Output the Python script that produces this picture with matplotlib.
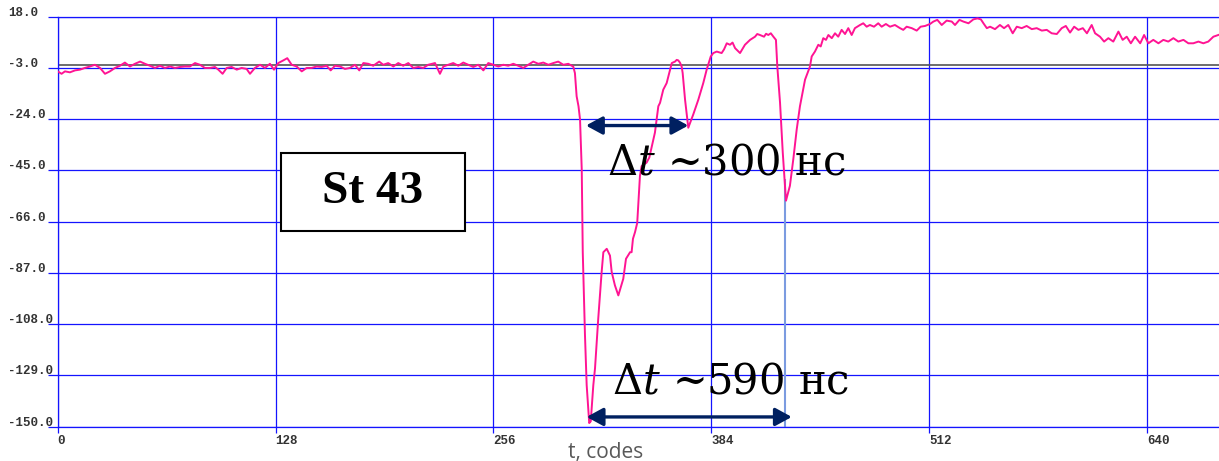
#! /usr/bin/env python

import numpy as np
import matplotlib
matplotlib.use('Agg')
import matplotlib.pyplot as plt
from matplotlib.patches import Rectangle
from matplotlib import transforms

# signal (t in codes, amplitude)
base_t = [0, 2.3, 4.3, 7.2, 10.2, 13.1, 16, 19, 21.9, 24.9, 27.8, 30.7, 33.7, 36.6, 39.5,
          42.5, 45.4, 48.4, 51.3, 54.2, 57.2, 60.1, 63, 66, 68.9, 71.9, 74.8, 77.7, 80.7,
          83.6, 86.5, 89.5, 92.4, 94.4, 96.9, 99.3, 102.2, 105.2, 108.1, 111, 113, 115.9,
          118.9, 121.8, 124.7, 127.1, 129.6, 132.6, 134.9, 137.5, 140.4, 143.4, 146.3,
          149.2, 152.2, 155.1, 158, 160.4, 162.9, 165.9, 168.8, 171.7, 174.7, 177.2, 179.6,
          182.5, 185.4, 188.9, 191.3, 194.2, 197.2, 200.1, 203, 206, 208.9, 211.9, 214.8,
          217.7, 221.7, 224.6, 226.6, 229.5, 232.4, 235.4, 238.3, 241.2, 244.2, 247.1,
          250.1, 253, 255.9, 258.9, 261.8, 264.7, 267.7, 270.6, 273.6, 276.5, 279.4, 282.4,
          285.3, 288.3, 291.2, 294.1, 297.1, 300, 302]
base_v = [-4.4, -5.4, -4.4, -4.8, -4.0, -3.7, -3.0, -2.4, -1.7, -3.0, -5.4, -4.4, -3.0, -2.1, -0.8,
          -2.4, -1.3, -0.4, -1.3, -2.1, -3.0, -2.1, -3.0, -2.4, -3.0, -2.6, -2.4, -2.4, -1.0,
          -1.7, -3.0, -3.0, -2.6, -3.7, -5.4, -3.0, -2.6, -3.7, -3.0, -3.4, -5.4, -3.0,
          -1.7, -3.0, -1.3, -3.7, -1.0, 0.1, 1.0, -1.7, -2.4, -4.4, -3.0,
          -3.0, -2.4, -2.6, -2.1, -4.0, -2.1, -2.4, -3.4, -3.0, -1.7, -4.0, -1.0,
          -1.3, -2.1, -0.4, -1.7, -1.0, -2.4, -1.0, -2.1, -1.0, -3.0, -2.6, -3.0,
          -1.7, -1.0, -5.4, -2.4, -1.7, -1.0, -2.1, -0.8, -1.7, -2.6, -1.7,
          -4.0, -1.0, -1.7, -2.4, -1.7, -2.1, -1.3, -2.1, -3.0, -1.7, -0.4, -1.3,
          -0.8, -1.7, -1.0, -0.4, -1.7, -1.3, -2.1]

pulse_t = [302.9, 303.9, 304.9, 306.0, 306.9, 307.9, 308.5, 308.8, 309.8, 310.8, 312.3, 313.2,
           314.7, 315.7, 317.6, 319.6, 320.6, 322.6, 324.5, 325.5, 327.4, 329.4, 332.3, 333.9,
           336.3, 337.2, 338.0, 339.2, 340.5, 342.1, 343.1, 346.0, 347.6, 350.0, 350.9, 352.9,
           353.9, 355.8, 357.8, 358.8, 360.8, 362.7, 363.7, 364.6, 365.6, 366.6, 367.2, 368.6,
           370.5, 373.4, 376.4, 379.3, 381.3, 383.7, 385.2, 387.2, 390.1, 391.5, 393.1, 395.0,
           396.5, 398.0, 400.9, 403.8, 406.8, 409.7, 411.0, 412.6, 415.0, 416.2, 417.5, 419.0,
           420.5, 422.0, 422.8, 424.4, 426.0, 427.9, 430.2, 432.2, 434.2, 436.1, 439.1, 442.0,
           443.0, 444.9, 446.9]
pulse_v = [-2.4, -5.1, -14.6, -18.7, -24.1, -44.5, -78.4, -86.6, -112.4, -132.9, -148.5, -147.8,
           -133.0, -126.1, -105.7, -86.6, -78.5, -77.1, -79.9, -86.6, -92.1, -96.2, -89.4, -81.2,
           -78.5, -78.5, -73.0, -70.3, -66.5, -47.2, -43.2, -41.8, -39.7, -32.3, -29.5, -18.7,
           -17.3, -11.9, -9.2, -6.5, -1.0, -0.4, 0.3, 0.1, -0.8, -2.4, -5.1, -16.0,
           -27.5, -22.1, -16.0, -9.2, -3.7, 1.7, 3.1, 3.7, 3.1, 4.6, 7.1, 6.5,
           7.4, 5.1, 3.1, 6.5, 8.5, 9.8, 10.9, 10.5, 9.8, 11.0, 10.5, 11.2,
           9.8, 8.5, -2.4, -17.2, -37.6, -57.4, -51.3, -40.4, -28.2, -18.7, -7.8, -2.4,
           1.7, 3.7, 6.5]

tail_t = [448.3, 449.8, 451.4, 452.8, 454.8, 456.7, 458.6, 460.6, 462.6, 464.5, 466.5, 468.4,
          471.4, 473.3, 475.3, 477.2, 479.6, 482.1, 484.1, 486.6, 489.0, 491.9, 494.9, 496.8,
          498.8, 501.8, 504.7, 507.0, 509.6, 512.5, 514.5, 516.8, 519.4, 522.3, 525.3, 527.2,
          529.8, 532.1, 535.1, 538.0, 540.4, 542.4, 543.9, 545.9, 547.8, 550.7, 553.6, 556.0,
          558.5, 561.1, 563.5, 566.4, 569.3, 572.3, 575.2, 578.2, 581.1, 584.0, 587.0, 589.9,
          592.3, 594.8, 597.2, 599.7, 602.3, 604.7, 607.5, 609.5, 612.4, 614.8, 617.3, 620.2,
          623.2, 625.7, 628.1, 630.5, 633.0, 636.0, 638.3, 640.8, 643.7, 646.7, 649.6, 652.5,
          655.5, 658.4, 661.4, 664.3, 667.2, 670.2, 673.1, 676.0, 679.0, 681.9]
tail_v = [5.8, 9.2, 8.5, 10.5, 9.2, 11.2, 9.8, 12.6, 10.9, 13.3, 10.5, 13.3,
          14.6, 15.3, 13.9, 14.6, 13.9, 15.3, 13.9, 15.0, 13.9, 14.6, 13.3, 12.6,
          13.9, 13.3, 12.3, 13.9, 14.2, 15.0, 16.0, 16.7, 14.6, 16.4, 16.0, 14.6,
          16.7, 16.0, 15.3, 16.9, 17.3, 16.9, 15.3, 13.3, 13.9, 12.9, 14.6, 13.3,
          14.6, 11.2, 13.9, 13.3, 14.2, 12.9, 13.3, 12.3, 12.6, 11.2, 10.9, 13.3,
          14.2, 11.5, 13.9, 12.6, 13.3, 11.2, 14.6, 11.2, 9.8, 7.8, 9.2, 7.8,
          11.9, 8.5, 9.8, 7.1, 9.8, 7.1, 10.5, 7.1, 8.5, 7.1, 8.5, 7.8,
          9.2, 7.8, 8.5, 7.1, 7.1, 7.8, 7.1, 7.8, 9.8, 10.5]

x_ticks = [0, 128, 256, 384, 512, 640]
x_labels = ['0', '128', '256', '384', '512', '640']
y_ticks = [18, -3, -24, -45, -66, -87, -108, -129, -150]
y_labels = ['18.0', '-3.0', '-24.0', '-45.0', '-66.0', '-87.0', '-108.0', '-129.0', '-150.0']
ref_level = -2.0

GRID = '#1414ff'
TRACE = '#ff1493'
NAVY = '#002060'

plt.rcParams['mathtext.fontset'] = 'dejavuserif'

fig = plt.figure(figsize=(12.19, 4.61), dpi=100)
ax = fig.add_axes([0.0473, 0.0744, 0.9527, 0.8894])

t = np.concatenate([base_t, pulse_t, tail_t])
v = np.concatenate([base_v, pulse_v, tail_v])

ax.axhline(ref_level, color='#555555', lw=1.2, zorder=2)
ax.plot(t, v, color=TRACE, lw=1.4, zorder=3)

ax.set_xlim(0, 682.3)
ax.set_ylim(-150, 18)
ax.set_xticks(x_ticks)
ax.set_xticklabels(x_labels, fontfamily='Liberation Mono', fontweight='bold',
                   color='#333333', fontsize=9, ha='left')
ax.set_yticks(y_ticks)
ax.grid(True, color=GRID, lw=0.9, zorder=1)
ax.tick_params(axis='x', color=GRID, length=4.3, width=0.9, pad=2)
ax.tick_params(axis='y', color=GRID, length=7.2, width=0.9, labelleft=False)
for side in ['left', 'top', 'bottom']:
    ax.spines[side].set_color(GRID)
    ax.spines[side].set_linewidth(0.9)
ax.spines['right'].set_visible(False)

# y labels sit at the far left, a bit above their lines
ytrans = transforms.blended_transform_factory(fig.transFigure, ax.transData)
ytrans = transforms.offset_copy(ytrans, fig=fig, y=3, units='points')
for val, lbl in zip(y_ticks, y_labels):
    ax.text(8 / 1219, val, lbl, transform=ytrans, va='center', ha='left',
            fontfamily='Liberation Mono', fontweight='bold', fontsize=9, color='#333333')

fig.text(568 / 1219, 1 - 458 / 461, 't, codes', fontsize=15, family='Open Sans',
         color='#595959', va='baseline')

# marker under the second dip
ax.vlines(427.3, -150, -48.6, color='#7b9be0', lw=1.5, zorder=2)

arrow = dict(arrowstyle='<|-|>,head_length=0.55,head_width=0.3', color=NAVY, lw=2.4,
             shrinkA=0, shrinkB=0, mutation_scale=18)
ax.annotate('', xy=(370.5, -26.6), xytext=(310.4, -26.6), arrowprops=arrow, zorder=6)
ax.annotate('', xy=(431.3, -146), xytext=(310.8, -146), arrowprops=arrow, zorder=6)

ax.text(322.7, -46.6, r'$\Delta t$ ~300 нс', fontsize=30, family='DejaVu Serif',
        va='baseline', ha='left', zorder=7)
ax.text(325.7, -136.3, r'$\Delta t$ ~590 нс', fontsize=30, family='DejaVu Serif',
        va='baseline', ha='left', zorder=7)

ax.add_patch(Rectangle((131.0, -69.7), 108.3, 31.7, facecolor='white', edgecolor='black',
                       lw=1.5, zorder=4))
ax.text(185.2, -53.9, 'St 43', fontsize=34, family='Liberation Serif', fontweight='bold',
        ha='center', va='center', zorder=5)

fig.savefig('out.png', dpi=100)
